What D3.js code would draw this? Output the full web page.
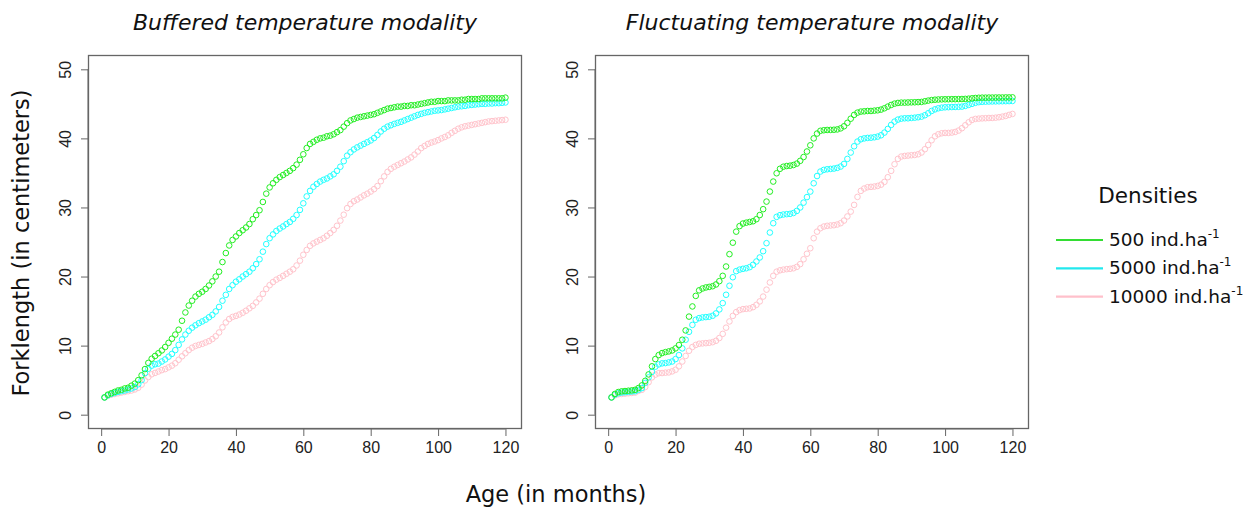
<!DOCTYPE html>
<html>
<head>
<meta charset="utf-8">
<script src="https://cdn.jsdelivr.net/npm/d3@7"></script>
<style>
  body { margin: 0; background: #fff; }
  svg { display: block; }
</style>
</head>
<body>
<svg width="1257" height="508"></svg>
<script>
// months 1..120 on the x axis
var months = d3.range(1, 121);
var xTicks = [0, 20, 40, 60, 80, 100, 120];
var yTicks = [0, 10, 20, 30, 40, 50];

var densities = ['500', '5000', '10000'];
var colors = ['#22ee22', '#22ffff', '#ffc4cc'];
var lineColors = ['#33dd33', '#22e8ee', '#ffc0cb'];

// buffered temperature modality
var bufGreen = [2.5, 2.9, 3.1, 3.3, 3.5, 3.6, 3.8, 3.9, 4.2, 4.5,
  5.0, 5.7, 6.6, 7.5, 8.1, 8.5, 8.9, 9.3, 9.8, 10.4,
  11.0, 11.6, 12.3, 13.6, 14.8, 15.8, 16.5, 17.1, 17.5, 17.8,
  18.2, 18.7, 19.3, 20.0, 20.7, 22.1, 23.4, 24.5, 25.3, 25.8,
  26.3, 26.7, 27.1, 27.6, 28.3, 28.9, 29.6, 30.8, 32.0, 32.9,
  33.5, 34.0, 34.4, 34.7, 35.0, 35.3, 35.7, 36.2, 36.9, 37.7,
  38.6, 39.2, 39.5, 39.8, 40.0, 40.1, 40.3, 40.4, 40.6, 40.9,
  41.2, 41.7, 42.2, 42.6, 42.8, 43.0, 43.1, 43.2, 43.3, 43.4,
  43.5, 43.7, 43.9, 44.1, 44.3, 44.4, 44.5, 44.6, 44.6, 44.7,
  44.7, 44.8, 44.8, 44.9, 45.0, 45.1, 45.2, 45.3, 45.3, 45.4,
  45.4, 45.4, 45.5, 45.5, 45.5, 45.5, 45.6, 45.6, 45.7, 45.7,
  45.7, 45.7, 45.8, 45.8, 45.8, 45.8, 45.8, 45.8, 45.8, 45.9];
var bufCyan = [2.5, 2.8, 3.0, 3.15, 3.3, 3.4, 3.5, 3.65, 3.8, 4.0,
  4.4, 5.0, 6.0, 6.65, 7.1, 7.3, 7.4, 7.7, 8.0, 8.4,
  8.8, 9.35, 10.1, 10.9, 11.6, 12.15, 12.6, 12.95, 13.25, 13.5,
  13.75, 14.1, 14.45, 14.95, 15.6, 16.5, 17.35, 18.2, 18.75, 19.25,
  19.6, 20.0, 20.35, 20.7, 21.2, 21.8, 22.5, 23.6, 24.7, 25.55,
  26.1, 26.6, 26.95, 27.25, 27.6, 27.9, 28.35, 28.9, 29.65, 30.6,
  31.6, 32.4, 33.0, 33.4, 33.75, 34.0, 34.2, 34.5, 34.8, 35.3,
  35.9, 36.7, 37.5, 38.0, 38.4, 38.7, 38.95, 39.2, 39.45, 39.7,
  40.05, 40.5, 41.0, 41.4, 41.7, 41.9, 42.1, 42.25, 42.4, 42.6,
  42.8, 43.0, 43.2, 43.4, 43.55, 43.7, 43.8, 43.9, 44.0, 44.05,
  44.1, 44.2, 44.3, 44.4, 44.5, 44.6, 44.65, 44.7, 44.8, 44.85,
  44.9, 44.95, 45.0, 45.0, 45.05, 45.05, 45.1, 45.1, 45.15, 45.2];
var bufPink = [2.5, 2.75, 2.9, 3.0, 3.1, 3.2, 3.3, 3.4, 3.5, 3.65,
  3.9, 4.35, 4.95, 5.45, 5.85, 6.05, 6.25, 6.45, 6.6, 6.85,
  7.1, 7.45, 7.95, 8.45, 8.9, 9.35, 9.7, 9.95, 10.1, 10.25,
  10.45, 10.65, 10.95, 11.35, 11.9, 12.65, 13.35, 13.85, 14.15, 14.3,
  14.5, 14.75, 15.05, 15.4, 15.75, 16.25, 16.8, 17.5, 18.2, 18.75,
  19.2, 19.55, 19.8, 20.1, 20.4, 20.7, 21.05, 21.6, 22.3, 23.15,
  23.85, 24.45, 24.8, 25.05, 25.3, 25.55, 25.9, 26.3, 26.75, 27.35,
  28.1, 28.95, 29.9, 30.5, 30.9, 31.15, 31.45, 31.75, 32.0, 32.3,
  32.65, 33.1, 33.8, 34.5, 35.15, 35.6, 35.9, 36.15, 36.4, 36.65,
  36.95, 37.25, 37.65, 38.1, 38.6, 38.9, 39.2, 39.4, 39.55, 39.75,
  40.0, 40.2, 40.45, 40.8, 41.1, 41.4, 41.6, 41.75, 41.85, 41.95,
  42.05, 42.15, 42.25, 42.35, 42.45, 42.5, 42.55, 42.6, 42.65, 42.7];

// fluctuating temperature modality
var fluGreen = [2.5, 3.0, 3.28, 3.38, 3.42, 3.47, 3.52, 3.6, 3.86, 4.24,
  4.9, 5.83, 7.0, 8.05, 8.63, 8.92, 9.06, 9.16, 9.3, 9.6,
  10.08, 10.85, 12.2, 14.2, 15.67, 17.2, 18.0, 18.27, 18.42, 18.5,
  18.6, 18.85, 19.33, 20.1, 21.45, 23.24, 24.9, 26.5, 27.3, 27.67,
  27.8, 27.9, 28.0, 28.3, 28.9, 29.75, 30.85, 32.3, 33.75, 34.95,
  35.6, 35.9, 36.0, 36.05, 36.15, 36.35, 36.75, 37.3, 38.1, 39.0,
  40.0, 40.7, 41.1, 41.18, 41.22, 41.23, 41.25, 41.3, 41.45, 41.75,
  42.25, 42.85, 43.4, 43.73, 43.88, 43.92, 43.97, 43.97, 44.02, 44.07,
  44.17, 44.36, 44.6, 44.84, 45.03, 45.13, 45.18, 45.18, 45.2, 45.22,
  45.23, 45.25, 45.28, 45.37, 45.47, 45.55, 45.6, 45.63, 45.65, 45.66,
  45.67, 45.68, 45.68, 45.69, 45.7, 45.72, 45.75, 45.8, 45.85, 45.88,
  45.9, 45.9, 45.91, 45.91, 45.92, 45.92, 45.92, 45.93, 45.93, 45.94];
var fluCyan = [2.5, 2.9, 3.1, 3.2, 3.25, 3.3, 3.35, 3.4, 3.6, 3.85,
  4.6, 5.4, 6.2, 6.95, 7.28, 7.43, 7.47, 7.57, 7.7, 8.05,
  8.63, 9.6, 10.85, 12.0, 13.0, 13.74, 13.98, 14.08, 14.13, 14.18,
  14.32, 14.66, 15.24, 16.15, 17.36, 18.66, 19.9, 20.78, 21.0, 21.12,
  21.2, 21.36, 21.7, 22.18, 22.76, 23.67, 24.83, 26.37, 27.72, 28.64,
  28.88, 28.98, 29.03, 29.07, 29.2, 29.5, 30.0, 30.7, 31.5, 32.3,
  33.5, 34.55, 35.2, 35.44, 35.53, 35.58, 35.63, 35.73, 35.92, 36.3,
  37.03, 37.95, 38.86, 39.54, 39.87, 40.0, 40.07, 40.1, 40.16, 40.26,
  40.45, 40.84, 41.37, 41.95, 42.43, 42.72, 42.86, 42.91, 42.91, 42.96,
  43.0, 43.06, 43.15, 43.35, 43.64, 43.97, 44.2, 44.36, 44.45, 44.5,
  44.52, 44.54, 44.55, 44.57, 44.6, 44.7, 44.85, 45.0, 45.15, 45.25,
  45.3, 45.32, 45.34, 45.35, 45.36, 45.37, 45.38, 45.39, 45.4, 45.42];
var fluPink = [2.5, 2.8, 2.95, 3.0, 3.05, 3.1, 3.15, 3.2, 3.45, 3.6,
  4.0, 4.7, 5.4, 5.8, 6.0, 6.03, 6.08, 6.12, 6.27, 6.5,
  7.0, 7.7, 8.5, 9.25, 9.8, 10.1, 10.27, 10.32, 10.36, 10.41,
  10.5, 10.7, 11.1, 11.7, 12.6, 13.5, 14.3, 14.85, 15.14, 15.28,
  15.33, 15.38, 15.57, 15.9, 16.4, 17.1, 18.1, 19.14, 20.1, 20.7,
  20.9, 21.0, 21.07, 21.12, 21.2, 21.4, 21.8, 22.5, 23.3, 24.1,
  25.55, 26.5, 27.0, 27.24, 27.34, 27.39, 27.43, 27.53, 27.72, 28.1,
  28.7, 29.4, 30.37, 31.53, 32.4, 32.74, 32.93, 32.98, 33.03, 33.12,
  33.3, 33.7, 34.38, 35.3, 36.26, 37.03, 37.37, 37.46, 37.51, 37.56,
  37.6, 37.7, 37.95, 38.43, 39.05, 39.73, 40.3, 40.6, 40.74, 40.79,
  40.79, 40.84, 40.93, 41.13, 41.47, 41.9, 42.33, 42.67, 42.82, 42.86,
  42.9, 42.92, 42.95, 42.96, 43.0, 43.06, 43.15, 43.25, 43.4, 43.54];

var panels = [
  { title: 'Buffered temperature modality', left: 88.5, series: [bufGreen, bufCyan, bufPink] },
  { title: 'Fluctuating temperature modality', left: 595.5, series: [fluGreen, fluCyan, fluPink] }
];

var svg = d3.select('svg');
var boxW = 433, plotTop = 55.5, plotBottom = 428.5;
var tickFont = '"Liberation Sans", Arial, sans-serif';
var textFont = '"DejaVu Sans", Verdana, sans-serif';

var y = d3.scaleLinear().domain([-2, 52]).range([plotBottom, plotTop]);

panels.forEach(function (p) {
  var x = d3.scaleLinear().domain([-3.76, 124.76]).range([p.left, p.left + boxW]);
  var g = svg.append('g');

  // points, pink first so green sits on top
  for (var s = p.series.length - 1; s >= 0; s--) {
    g.append('g').selectAll('circle')
      .data(p.series[s])
      .enter()
      .append('circle')
      .attr('cx', function (d, i) { return x(months[i]); })
      .attr('cy', function (d) { return y(d); })
      .attr('r', 2.8)
      .attr('fill', 'none')
      .attr('stroke', colors[s])
      .attr('stroke-width', 1);
  }

  g.append('rect')
    .attr('x', p.left).attr('y', plotTop)
    .attr('width', boxW).attr('height', plotBottom - plotTop)
    .attr('fill', 'none').attr('stroke', '#666').attr('stroke-width', 1.3);

  var xAxis = g.append('g')
    .attr('transform', 'translate(0,' + (plotBottom + 0.5) + ')')
    .call(d3.axisBottom(x).tickValues(xTicks).tickSize(7).tickPadding(6).tickSizeOuter(0));
  xAxis.select('.domain')
    .attr('d', 'M' + x(0) + ',0H' + x(120));
  xAxis.selectAll('text').attr('font-family', tickFont).attr('font-size', 16).attr('fill', '#222');

  var yAxis = g.append('g')
    .attr('transform', 'translate(' + (p.left - 0.5) + ',0)')
    .call(d3.axisLeft(y).tickValues(yTicks).tickSize(7).tickSizeOuter(0));
  yAxis.select('.domain')
    .attr('d', 'M0,' + y(0) + 'V' + y(50));
  yAxis.selectAll('text').remove();
  yAxis.selectAll('.tick').append('text')
    .attr('transform', 'translate(-23,0) rotate(-90)')
    .attr('text-anchor', 'middle')
    .attr('dy', '0.35em')
    .attr('font-family', tickFont).attr('font-size', 16).attr('fill', '#222')
    .text(function (d) { return d; });
  svg.selectAll('.domain, .tick line').attr('stroke', '#666');

  svg.append('text')
    .attr('x', p.left + boxW / 2).attr('y', 30)
    .attr('text-anchor', 'middle')
    .attr('font-family', textFont).attr('font-style', 'italic').attr('font-size', 22)
    .attr('fill', '#111')
    .text(p.title);
});

svg.append('text')
  .attr('transform', 'translate(29,243) rotate(-90)')
  .attr('text-anchor', 'middle')
  .attr('font-family', textFont).attr('font-size', 22.5).attr('fill', '#111')
  .text('Forklength (in centimeters)');

svg.append('text')
  .attr('x', 556).attr('y', 502)
  .attr('text-anchor', 'middle')
  .attr('font-family', textFont).attr('font-size', 22.5).attr('fill', '#111')
  .text('Age (in months)');

// legend
var legend = svg.append('g');
legend.append('text')
  .attr('x', 1148).attr('y', 203)
  .attr('text-anchor', 'middle')
  .attr('font-family', textFont).attr('font-size', 21.5).attr('fill', '#111')
  .text('Densities');

densities.forEach(function (d, i) {
  var ly = 240 + i * 28.3;
  legend.append('line')
    .attr('x1', 1056).attr('x2', 1103).attr('y1', ly).attr('y2', ly)
    .attr('stroke', lineColors[i]).attr('stroke-width', 2.2);
  var t = legend.append('text')
    .attr('x', 1109).attr('y', ly + 6)
    .attr('font-family', textFont).attr('font-size', 18.5).attr('fill', '#111');
  t.append('tspan').text(d + ' ind.ha');
  t.append('tspan').attr('dy', -8).attr('font-size', 12).text('-1');
});
</script>
</body>
</html>
